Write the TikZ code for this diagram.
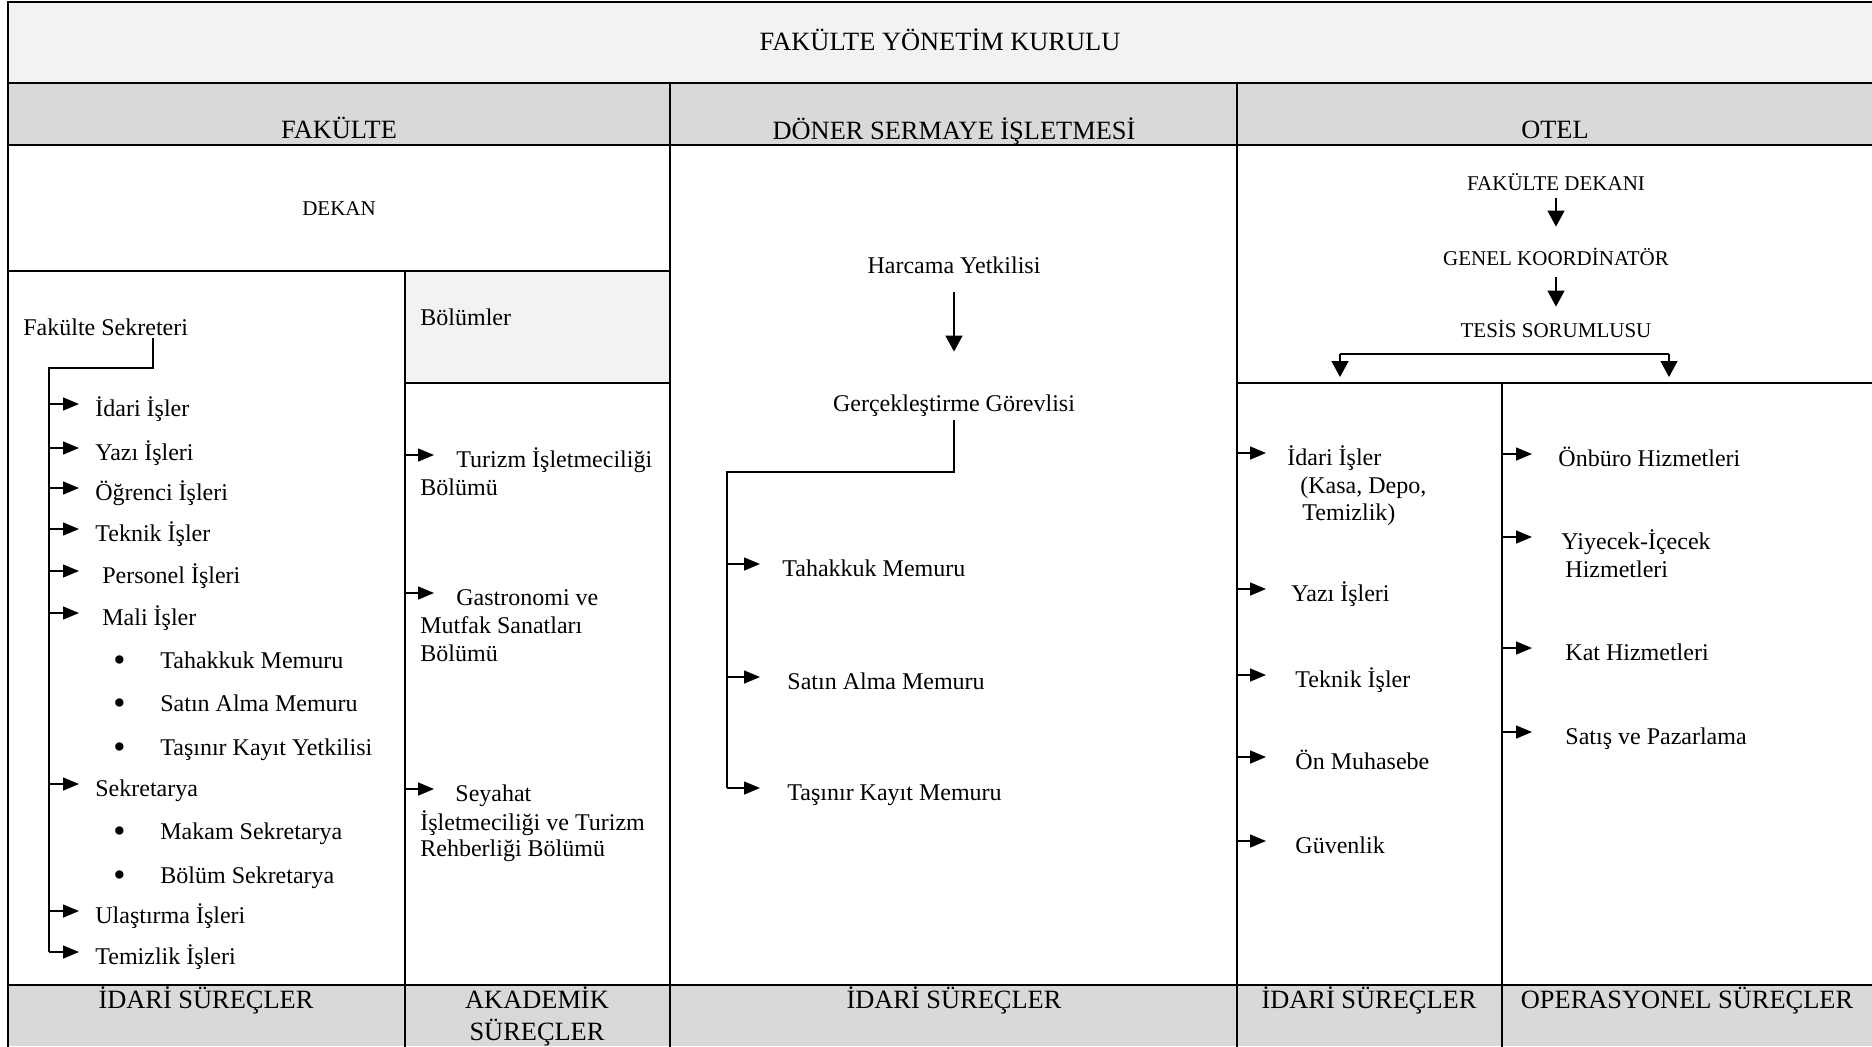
\documentclass[tikz,border=0pt]{standalone}
\usepackage{fontspec}
\setmainfont{Liberation Serif}
\usetikzlibrary{arrows.meta}
\definecolor{hdrg}{HTML}{D9D9D9}
\definecolor{paleg}{HTML}{F2F2F2}
\newcommand{\bul}{\makebox[23.5pt][l]{\raisebox{-1.5pt}{\scalebox{1.45}{\textbullet}}}}
\begin{document}
\begin{tikzpicture}[x=0.5pt,y=-0.5pt,
	cell/.style={line width=1.35pt,line cap=rect},
	conn/.style={line width=0.7pt},
	harr/.style={line width=0.7pt,-{Triangle[length=8pt,width=6.5pt]}},
	varr/.style={line width=0.7pt,-{Triangle[length=8pt,width=8.5pt]}},
	hdr/.style={font=\fontsize{13.2}{15.8}\selectfont,inner sep=0pt,text height=8.7pt,text depth=0pt},
	txt/.style={font=\fontsize{12}{14}\selectfont,inner sep=0pt,text height=8pt,text depth=0pt},
	sml/.style={font=\fontsize{10.5}{12.6}\selectfont,inner sep=0pt,text height=7pt,text depth=0pt},
	entry/.style={txt,anchor=west,text height=12pt}]
	\useasboundingbox (0,0) rectangle (1872,1046);
	\fill[paleg] (8,2) rectangle (1872,83);
	\fill[hdrg] (8,83) rectangle (1872,145);
	\fill[paleg] (405,271) rectangle (670,383);
	\fill[hdrg] (8,985) rectangle (1872,1046);
	\draw[cell] (1872,2) -- (8,2) -- (8,1046);
	\draw[cell] (8,83) -- (1872,83);
	\draw[cell] (8,145) -- (1872,145);
	\draw[cell] (8,271) -- (670,271);
	\draw[cell] (405,383) -- (670,383);
	\draw[cell] (1237,383) -- (1872,383);
	\draw[cell] (8,985) -- (1872,985);
	\draw[cell] (670,83) -- (670,1046);
	\draw[cell] (1237,83) -- (1237,1046);
	\draw[cell] (405,271) -- (405,1046);
	\draw[cell] (1502,383) -- (1502,1046);

	\node[hdr] (tt) at (940,42) {FAKÜLTE YÖNETİM KURULU};
	\node[hdr] (hf) at (339,130) {FAKÜLTE};
	\node[hdr] (hd) at (954,131) {DÖNER SERMAYE İŞLETMESİ};
	\node[hdr] (ho) at (1555,130) {OTEL};

	\node[sml] (dek) at (339,208) {DEKAN};
	\node[entry] (fs) at (23,323) {Fakülte Sekreteri};
	\node[entry] (bl) at (420,313) {Bölümler};

	\node[entry] (f1) at (95,404) {İdari İşler};
	\node[entry] (f2) at (95,448) {Yazı İşleri};
	\node[entry] (f3) at (95,488) {Öğrenci İşleri};
	\node[entry] (f4) at (95,529) {Teknik İşler};
	\node[entry] (f5) at (102,571) {Personel İşleri};
	\node[entry] (f6) at (102,613) {Mali İşler};
	\node[entry] (f7) at (113,656) {\bul Tahakkuk Memuru};
	\node[entry] (f8) at (113,699) {\bul Satın Alma Memuru};
	\node[entry] (f9) at (113,743) {\bul Taşınır Kayıt Yetkilisi};
	\node[entry] (f10) at (95,784) {Sekretarya};
	\node[entry] (f11) at (113,827) {\bul Makam Sekretarya};
	\node[entry] (f12) at (113,871) {\bul Bölüm Sekretarya};
	\node[entry] (f13) at (95,911) {Ulaştırma İşleri};
	\node[entry] (f14) at (95,952) {Temizlik İşleri};

	\coordinate (fk) at (49,368);
	\coordinate (fa) at (79,368);
	\draw[conn] ([xshift=65pt,yshift=-1.5pt]fs.base west) |- (fk) -- (fk |- f14.west);
	\draw[harr] (f1.west -| fk) -- (f1.west -| fa);
	\draw[harr] (f2.west -| fk) -- (f2.west -| fa);
	\draw[harr] (f3.west -| fk) -- (f3.west -| fa);
	\draw[harr] (f4.west -| fk) -- (f4.west -| fa);
	\draw[harr] (f5.west -| fk) -- (f5.west -| fa);
	\draw[harr] (f6.west -| fk) -- (f6.west -| fa);
	\draw[harr] (f10.west -| fk) -- (f10.west -| fa);
	\draw[harr] (f13.west -| fk) -- (f13.west -| fa);
	\draw[harr] (f14.west -| fk) -- (f14.west -| fa);

	\node[entry] (b1) at (456,455) {Turizm İşletmeciliği};
	\node[entry] (b2) at (420,483) {Bölümü};
	\node[entry] (b3) at (456,593) {Gastronomi ve};
	\node[entry] (b4) at (420,621) {Mutfak Sanatları};
	\node[entry] (b5) at (420,649) {Bölümü};
	\node[entry] (b6) at (455,789) {Seyahat};
	\node[entry] (b7) at (420,818) {İşletmeciliği ve Turizm};
	\node[entry] (b8) at (420,844) {Rehberliği Bölümü};

	\coordinate (vb) at (405,383);
	\coordinate (ba) at (434,383);
	\draw[harr] (b1.west -| vb) -- (b1.west -| ba);
	\draw[harr] (b3.west -| vb) -- (b3.west -| ba);
	\draw[harr] (b6.west -| vb) -- (b6.west -| ba);

	\node[txt] (hy) at (954,265) {Harcama Yetkilisi};
	\node[txt] (gg) at (954,403) {Gerçekleştirme Görevlisi};
	\node[entry] (d1) at (782,564) {Tahakkuk Memuru};
	\node[entry] (d2) at (787,677) {Satın Alma Memuru};
	\node[entry] (d3) at (787,788) {Taşınır Kayıt Memuru};

	\coordinate (dk) at (727,472);
	\coordinate (da) at (760,472);
	\draw[varr,shorten <=9.5pt,shorten >=21.5pt] (hy.south) -- (gg.north);
	\draw[conn,shorten <=4.5pt] (gg.south) |- (dk) -- (dk |- d3.west);
	\draw[harr] (d1.west -| dk) -- (d1.west -| da);
	\draw[harr] (d2.west -| dk) -- (d2.west -| da);
	\draw[harr] (d3.west -| dk) -- (d3.west -| da);

	\node[sml] (od) at (1556,183) {FAKÜLTE DEKANI};
	\node[sml] (og) at (1556,258) {GENEL KOORDİNATÖR};
	\node[sml] (ot) at (1556,330) {TESİS SORUMLUSU};
	\draw[varr,shorten <=4pt,shorten >=12pt] (od.south) -- (og.north);
	\draw[varr,shorten <=6pt,shorten >=8pt] (og.south) -- (ot.north);

	\coordinate (vo) at (1237,383);
	\coordinate (oa) at (1266,383);
	\coordinate (vp) at (1502,383);
	\coordinate (pa) at (1532,383);
	\coordinate (tl) at (1340,354);
	\coordinate (tr) at (1669,354);
	\draw[conn] (tl) -- (tr);
	\draw[varr,shorten >=3pt] (tl) -- (tl |- vo);
	\draw[varr,shorten >=3pt] (tr) -- (tr |- vo);

	\node[entry] (o1) at (1287,453) {İdari İşler};
	\node[entry] (o2) at (1300,481) {(Kasa, Depo,};
	\node[entry] (o3) at (1302,508) {Temizlik)};
	\node[entry] (o4) at (1291,589) {Yazı İşleri};
	\node[entry] (o5) at (1295,675) {Teknik İşler};
	\node[entry] (o6) at (1295,757) {Ön Muhasebe};
	\node[entry] (o7) at (1295,841) {Güvenlik};
	\draw[harr] (o1.west -| vo) -- (o1.west -| oa);
	\draw[harr] (o4.west -| vo) -- (o4.west -| oa);
	\draw[harr] (o5.west -| vo) -- (o5.west -| oa);
	\draw[harr] (o6.west -| vo) -- (o6.west -| oa);
	\draw[harr] (o7.west -| vo) -- (o7.west -| oa);

	\node[entry] (p1) at (1558,454) {Önbüro Hizmetleri};
	\node[entry] (p2) at (1561,537) {Yiyecek-İçecek};
	\node[entry] (p3) at (1565,565) {Hizmetleri};
	\node[entry] (p4) at (1565,648) {Kat Hizmetleri};
	\node[entry] (p5) at (1565,732) {Satış ve Pazarlama};
	\draw[harr] (p1.west -| vp) -- (p1.west -| pa);
	\draw[harr] (p2.west -| vp) -- (p2.west -| pa);
	\draw[harr] (p4.west -| vp) -- (p4.west -| pa);
	\draw[harr] (p5.west -| vp) -- (p5.west -| pa);

	\node[hdr] (s1) at (206,1000) {İDARİ SÜREÇLER};
	\node[hdr] (s2) at (537,1000) {AKADEMİK};
	\node[hdr] (s3) at (537,1032) {SÜREÇLER};
	\node[hdr] (s4) at (954,1000) {İDARİ SÜREÇLER};
	\node[hdr] (s5) at (1369,1000) {İDARİ SÜREÇLER};
	\node[hdr] (s6) at (1687,1000) {OPERASYONEL SÜREÇLER};
\end{tikzpicture}
\end{document}
